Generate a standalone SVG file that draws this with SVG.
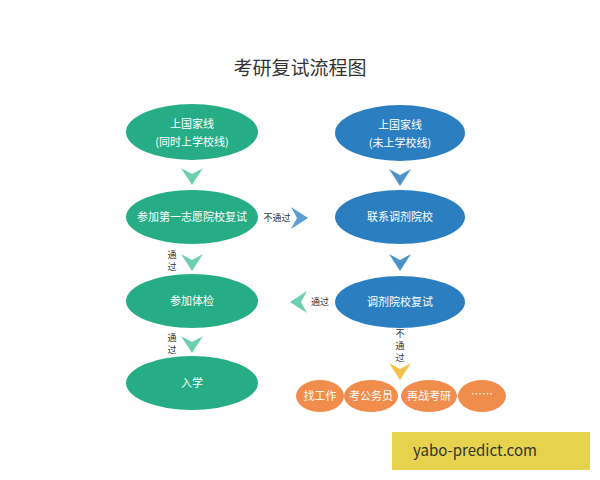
<svg xmlns="http://www.w3.org/2000/svg" width="600" height="480" viewBox="0 0 600 480">
<style>
text{font-family:"Noto Sans CJK SC","Liberation Sans",sans-serif;text-anchor:middle}
.g{fill:#27ad86}.b{fill:#2b7fc0}.o{fill:#f08c4c}
.w{fill:#fff;font-size:11px}
.l{fill:#333;font-size:9px}
</style>
<defs>
<path id="dn" d="M-11,-8 L0,-2 L11,-8 L0,9 Z"/>
<path id="rt" d="M-8,-11 L-2,0 L-8,11 L9,0 Z"/>
</defs>
<rect width="600" height="480" fill="#fff"/>
<text x="300" y="75" font-size="19" fill="#333">考研复试流程图</text>
<g id="connectors">
<use href="#dn" x="192" y="176" fill="#6ccfb2"/>
<use href="#dn" x="192" y="262" fill="#6ccfb2"/>
<use href="#dn" x="192" y="344" fill="#6ccfb2"/>
<use href="#dn" x="400" y="177" fill="#4c93cc"/>
<use href="#dn" x="400" y="262" fill="#4c93cc"/>
<use href="#dn" x="400" y="371" fill="#f2c24a"/>
<use href="#rt" x="299" y="218" fill="#5b9fd2"/>
<use href="#rt" x="299" y="302" fill="#6ccfb2" transform="rotate(180 299 302)"/>
<text class="l" x="277" y="221">不通过</text>
<text class="l" x="320" y="305">通过</text>
<text class="l" x="172" y="258">通</text><text class="l" x="172" y="270">过</text>
<text class="l" x="172" y="341">通</text><text class="l" x="172" y="353">过</text>
<text class="l" x="400" y="337">不</text><text class="l" x="400" y="349">通</text><text class="l" x="400" y="361">过</text>
</g>
<g id="n1"><ellipse class="g" cx="192" cy="132" rx="66" ry="28"/><text class="w" x="192" y="128">上国家线</text><text class="w" x="192" y="146">(同时上学校线)</text></g>
<g id="n2"><ellipse class="g" cx="192" cy="217" rx="66" ry="27"/><text class="w" x="192" y="221">参加第一志愿院校复试</text></g>
<g id="n3"><ellipse class="g" cx="192" cy="301" rx="66" ry="27"/><text class="w" x="192" y="305">参加体检</text></g>
<g id="n4"><ellipse class="g" cx="192" cy="383" rx="66" ry="27"/><text class="w" x="192" y="387">入学</text></g>
<g id="n5"><ellipse class="b" cx="400" cy="133" rx="65" ry="28"/><text class="w" x="400" y="129">上国家线</text><text class="w" x="400" y="147">(未上学校线)</text></g>
<g id="n6"><ellipse class="b" cx="400" cy="217" rx="65" ry="27"/><text class="w" x="400" y="221">联系调剂院校</text></g>
<g id="n7"><ellipse class="b" cx="400" cy="302" rx="65" ry="26"/><text class="w" x="400" y="306">调剂院校复试</text></g>
<g id="n8"><ellipse class="o" cx="320" cy="396" rx="24" ry="16"/><text class="w" x="320" y="400" font-size="10">找工作</text></g>
<g id="n9"><ellipse class="o" cx="371" cy="396" rx="27" ry="16"/><text class="w" x="371" y="400" font-size="10">考公务员</text></g>
<g id="n10"><ellipse class="o" cx="429" cy="396" rx="28" ry="16"/><text class="w" x="429" y="400" font-size="10">再战考研</text></g>
<g id="n11"><ellipse class="o" cx="482" cy="396" rx="24" ry="16"/><text class="w" x="482" y="398" font-size="9">……</text></g>
<rect x="392" y="432" width="198" height="38" fill="#e6d24c"/>
<text x="475" y="456" font-size="15" fill="#333" font-family="Liberation Sans,sans-serif">yabo-predict.com</text>
</svg>
